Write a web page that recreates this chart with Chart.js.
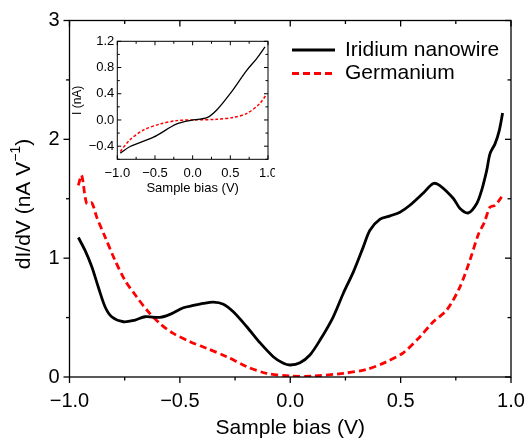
<!DOCTYPE html>
<html>
<head>
<meta charset="utf-8">
<script src="https://cdn.jsdelivr.net/npm/chart.js@4.4.1/dist/chart.umd.min.js"></script>
<style>
    html, body { margin: 0; padding: 0; background: #fff; }
    #wrap { position: relative; width: 527px; height: 439px; }
    #main { position: absolute; left: 0; top: 0; }
    #inset { position: absolute; left: 60px; top: 30px; }
</style>
</head>
<body>
<div id="wrap">
    <canvas id="main" width="527" height="439"></canvas>
    <canvas id="inset" width="215" height="175"></canvas>
</div>
<script>
// Datos: dI/dV (nA V^-1) vs sesgo de muestra (V)
const iridiumBias = [-0.960, -0.930, -0.899, -0.870, -0.839, -0.809, -0.756, -0.703, -0.658, -0.590, -0.545, -0.484, -0.439, -0.394, -0.349, -0.303, -0.258, -0.197, -0.137, -0.077, -0.031, 0.0, 0.044, 0.089, 0.135, 0.195, 0.240, 0.286, 0.331, 0.361, 0.407, 0.452, 0.497, 0.542, 0.603, 0.648, 0.678, 0.739, 0.769, 0.807, 0.845, 0.867, 0.890, 0.905, 0.928, 0.947, 0.962];
const iridiumDidv = [1.174, 1.067, 0.927, 0.759, 0.591, 0.507, 0.465, 0.479, 0.507, 0.502, 0.527, 0.583, 0.602, 0.619, 0.630, 0.613, 0.549, 0.423, 0.288, 0.171, 0.115, 0.101, 0.120, 0.185, 0.311, 0.507, 0.703, 0.885, 1.095, 1.235, 1.328, 1.356, 1.387, 1.445, 1.549, 1.628, 1.611, 1.502, 1.418, 1.381, 1.460, 1.571, 1.739, 1.880, 1.964, 2.076, 2.221];
const germaniumBias = [-0.960, -0.945, -0.922, -0.899, -0.877, -0.839, -0.794, -0.749, -0.696, -0.643, -0.582, -0.530, -0.454, -0.378, -0.288, -0.197, -0.107, 0.0, 0.104, 0.240, 0.346, 0.437, 0.512, 0.588, 0.648, 0.709, 0.769, 0.814, 0.852, 0.879, 0.905, 0.928, 0.958];
const germaniumDidv = [1.613, 1.697, 1.459, 1.465, 1.347, 1.179, 0.983, 0.815, 0.675, 0.549, 0.437, 0.367, 0.297, 0.241, 0.171, 0.087, 0.031, 0.008, 0.008, 0.031, 0.064, 0.129, 0.204, 0.339, 0.465, 0.563, 0.759, 0.983, 1.200, 1.300, 1.430, 1.445, 1.515];

// Inserto: corriente I (nA) vs sesgo (V)
const insetIridiumBias = [-0.96, -0.83, -0.52, -0.21, 0.01, 0.19, 0.32, 0.50, 0.72, 0.85, 0.96];
const insetIridiumCurrent = [-0.506, -0.405, -0.263, -0.061, 0.0, 0.035, 0.152, 0.405, 0.76, 0.937, 1.114];
const insetGermaniumBias = [-0.96, -0.83, -0.65, -0.43, -0.21, 0.0, 0.32, 0.54, 0.72, 0.89, 0.98];
const insetGermaniumCurrent = [-0.48, -0.30, -0.152, -0.061, -0.01, 0.0, 0.01, 0.04, 0.10, 0.25, 0.39];

// Marcas de los ejes
const mainXTicks = [-1.0, -0.5, 0.0, 0.5, 1.0];
const mainXMinor = [-0.75, -0.25, 0.25, 0.75];
const mainYTicks = [0, 1, 2, 3];
const mainYMinor = [0.5, 1.5, 2.5];
const insetXTicks = [-1.0, -0.5, 0.0, 0.5, 1.0];
const insetXMinor = [-0.75, -0.25, 0.25, 0.75];
const insetYTicks = [-0.4, 0.0, 0.4, 0.8, 1.2];
const insetYMinor = [-0.6, -0.2, 0.2, 0.6, 1.0];

const seriesNames = ['Iridium nanowire', 'Germanium'];

const FONT = "'Liberation Sans', Arial, Helvetica, sans-serif";
const BLACK = '#000000';
const RED = '#ff0000';

const toPoints = (xs, ys) => xs.map((x, i) => ({ x, y: ys[i] }));
const fmt = (v) => (v < 0 ? '\u2212' : '') + Math.abs(v).toFixed(1);
// Quita el margen extra que Chart.js reserva para las etiquetas extremas
const noEdgePad = (s) => { s.paddingLeft = 0; s.paddingRight = 0; s.paddingTop = 0; s.paddingBottom = 0; };

// Caja del área de la gráfica con marcas mayores y menores
const framePlugin = {
    id: 'frame',
    afterDatasetsDraw(chart, args, o) {
        const { ctx, chartArea: a, scales: { x, y } } = chart;
        ctx.save();
        ctx.strokeStyle = BLACK;
        ctx.lineWidth = o.lineWidth;
        ctx.strokeRect(a.left, a.top, a.right - a.left, a.bottom - a.top);
        const seg = (x0, y0, x1, y1) => { ctx.beginPath(); ctx.moveTo(x0, y0); ctx.lineTo(x1, y1); ctx.stroke(); };
        const xTicks = (vals, len) => vals.forEach((v) => {
            const p = x.getPixelForValue(v);
            seg(p, a.bottom, p, a.bottom + (o.bottomOut ? len : -len));
            seg(p, a.top, p, a.top + len);
        });
        const yTicks = (vals, len) => vals.forEach((v) => {
            const p = y.getPixelForValue(v);
            seg(a.left, p, a.left + (o.leftOut ? -len : len), p);
            seg(a.right, p, a.right - len, p);
        });
        xTicks(o.xMajor, o.major); xTicks(o.xMinor, o.minor);
        yTicks(o.yMajor, o.major); yTicks(o.yMinor, o.minor);
        ctx.restore();
    }
};

// Leyenda dibujada dentro del área, con el estilo de cada serie
const legendPlugin = {
    id: 'lineLegend',
    afterDraw(chart, args, o) {
        if (!o.show) return;
        const { ctx } = chart;
        ctx.save();
        chart.data.datasets.forEach((ds, i) => {
            const yy = o.y + i * o.dy;
            ctx.strokeStyle = ds.borderColor;
            ctx.lineWidth = ds.borderWidth;
            ctx.setLineDash(ds.borderDash || []);
            ctx.beginPath(); ctx.moveTo(o.x0, yy); ctx.lineTo(o.x1, yy); ctx.stroke();
            ctx.setLineDash([]);
            ctx.fillStyle = BLACK;
            ctx.font = o.font;
            ctx.textBaseline = 'middle';
            ctx.fillText(ds.label, o.textX, yy);
        });
        ctx.restore();
    }
};

// Título del eje Y principal con superíndice
const yTitlePlugin = {
    id: 'yTitle',
    afterDraw(chart, args, o) {
        if (!o.show) return;
        const { ctx } = chart;
        const big = `21px ${FONT}`, small = `14px ${FONT}`;
        const parts = [['dI/dV (nA V', big, 0], ['\u22121', small, -8], [')', big, 0]];
        ctx.save();
        let total = 0;
        parts.forEach(([t, f]) => { ctx.font = f; total += ctx.measureText(t).width; });
        ctx.translate(o.x, o.y);
        ctx.rotate(-Math.PI / 2);
        ctx.fillStyle = BLACK;
        ctx.textBaseline = 'middle';
        let cx = -total / 2;
        parts.forEach(([t, f, dy]) => { ctx.font = f; ctx.fillText(t, cx, dy); cx += ctx.measureText(t).width; });
        ctx.restore();
    }
};

Chart.defaults.font.family = FONT;
Chart.defaults.color = BLACK;

// ------------------------------------------------------------
// Gráfica principal: dI/dV
// ------------------------------------------------------------
new Chart(document.getElementById('main'), {
    type: 'line',
    data: {
        datasets: [
            { label: seriesNames[0], data: toPoints(iridiumBias, iridiumDidv), borderColor: BLACK, borderWidth: 2.8, pointRadius: 0, tension: 0.3 },
            { label: seriesNames[1], data: toPoints(germaniumBias, germaniumDidv), borderColor: RED, borderWidth: 2.8, borderDash: [7, 4], pointRadius: 0, tension: 0.3 }
        ]
    },
    plugins: [framePlugin, legendPlugin, yTitlePlugin],
    options: {
        responsive: false,
        animation: false,
        layout: { padding: { top: 20.5, right: 16, left: 0, bottom: 0 } },
        plugins: {
            legend: { display: false },
            tooltip: { enabled: false },
            frame: { lineWidth: 1.3, major: 6, minor: 3.5, bottomOut: true, leftOut: true, xMajor: mainXTicks, xMinor: mainXMinor, yMajor: mainYTicks, yMinor: mainYMinor },
            lineLegend: { show: true, x0: 292, x1: 335, textX: 345, y: 50, dy: 23.5, font: `21px ${FONT}` },
            yTitle: { show: true, x: 24, y: 204 }
        },
        scales: {
            x: {
                type: 'linear', min: -1, max: 1,
                afterBuildTicks: (s) => { s.ticks = mainXTicks.map((v) => ({ value: v })); },
                afterFit: (s) => { s.height = 62; noEdgePad(s); },
                grid: { display: false, drawTicks: false },
                border: { display: false },
                ticks: { callback: (v) => fmt(v), font: { size: 20 }, padding: 12, maxRotation: 0 },
                title: { display: true, text: 'Sample bias (V)', font: { size: 21, lineHeight: 1 }, padding: { top: 0, bottom: 0 } }
            },
            y: {
                type: 'linear', min: 0, max: 3,
                afterBuildTicks: (s) => { s.ticks = mainYTicks.map((v) => ({ value: v })); },
                afterFit: (s) => { s.width = 69.5; noEdgePad(s); },
                grid: { display: false, drawTicks: false },
                border: { display: false },
                ticks: { callback: (v) => String(v), font: { size: 20 }, padding: 10 }
            }
        }
    }
});

// ------------------------------------------------------------
// Inserto: curvas I-V
// ------------------------------------------------------------
new Chart(document.getElementById('inset'), {
    type: 'line',
    data: {
        datasets: [
            { label: seriesNames[0], data: toPoints(insetIridiumBias, insetIridiumCurrent), borderColor: BLACK, borderWidth: 1.3, pointRadius: 0, tension: 0.3 },
            { label: seriesNames[1], data: toPoints(insetGermaniumBias, insetGermaniumCurrent), borderColor: RED, borderWidth: 1.5, borderDash: [3, 2], pointRadius: 0, tension: 0.3 }
        ]
    },
    plugins: [framePlugin],
    options: {
        responsive: false,
        animation: false,
        layout: { padding: { top: 11.3, right: 7, left: 0, bottom: 0 } },
        plugins: {
            legend: { display: false },
            tooltip: { enabled: false },
            frame: { lineWidth: 1, major: 4, minor: 2.5, bottomOut: false, leftOut: false, xMajor: insetXTicks, xMinor: insetXMinor, yMajor: insetYTicks, yMinor: insetYMinor }
        },
        scales: {
            x: {
                type: 'linear', min: -1, max: 1,
                afterBuildTicks: (s) => { s.ticks = insetXTicks.map((v) => ({ value: v })); },
                afterFit: (s) => { s.height = 45.7; noEdgePad(s); },
                grid: { display: false, drawTicks: false },
                border: { display: false },
                ticks: { callback: (v) => fmt(v), font: { size: 13 }, padding: 6, maxRotation: 0 },
                title: { display: true, text: 'Sample bias (V)', font: { size: 13, lineHeight: 1 }, padding: { top: 0, bottom: 10 } }
            },
            y: {
                type: 'linear', min: -0.6, max: 1.2,
                afterBuildTicks: (s) => { s.ticks = insetYTicks.map((v) => ({ value: v })); },
                afterFit: (s) => { s.width = 57.3; noEdgePad(s); },
                grid: { display: false, drawTicks: false },
                border: { display: false },
                ticks: { callback: (v) => fmt(v), font: { size: 13 }, padding: 3 },
                title: { display: true, text: 'I (nA)', font: { size: 12 }, padding: { top: 10, bottom: 0 } }
            }
        }
    }
});
</script>
</body>
</html>
